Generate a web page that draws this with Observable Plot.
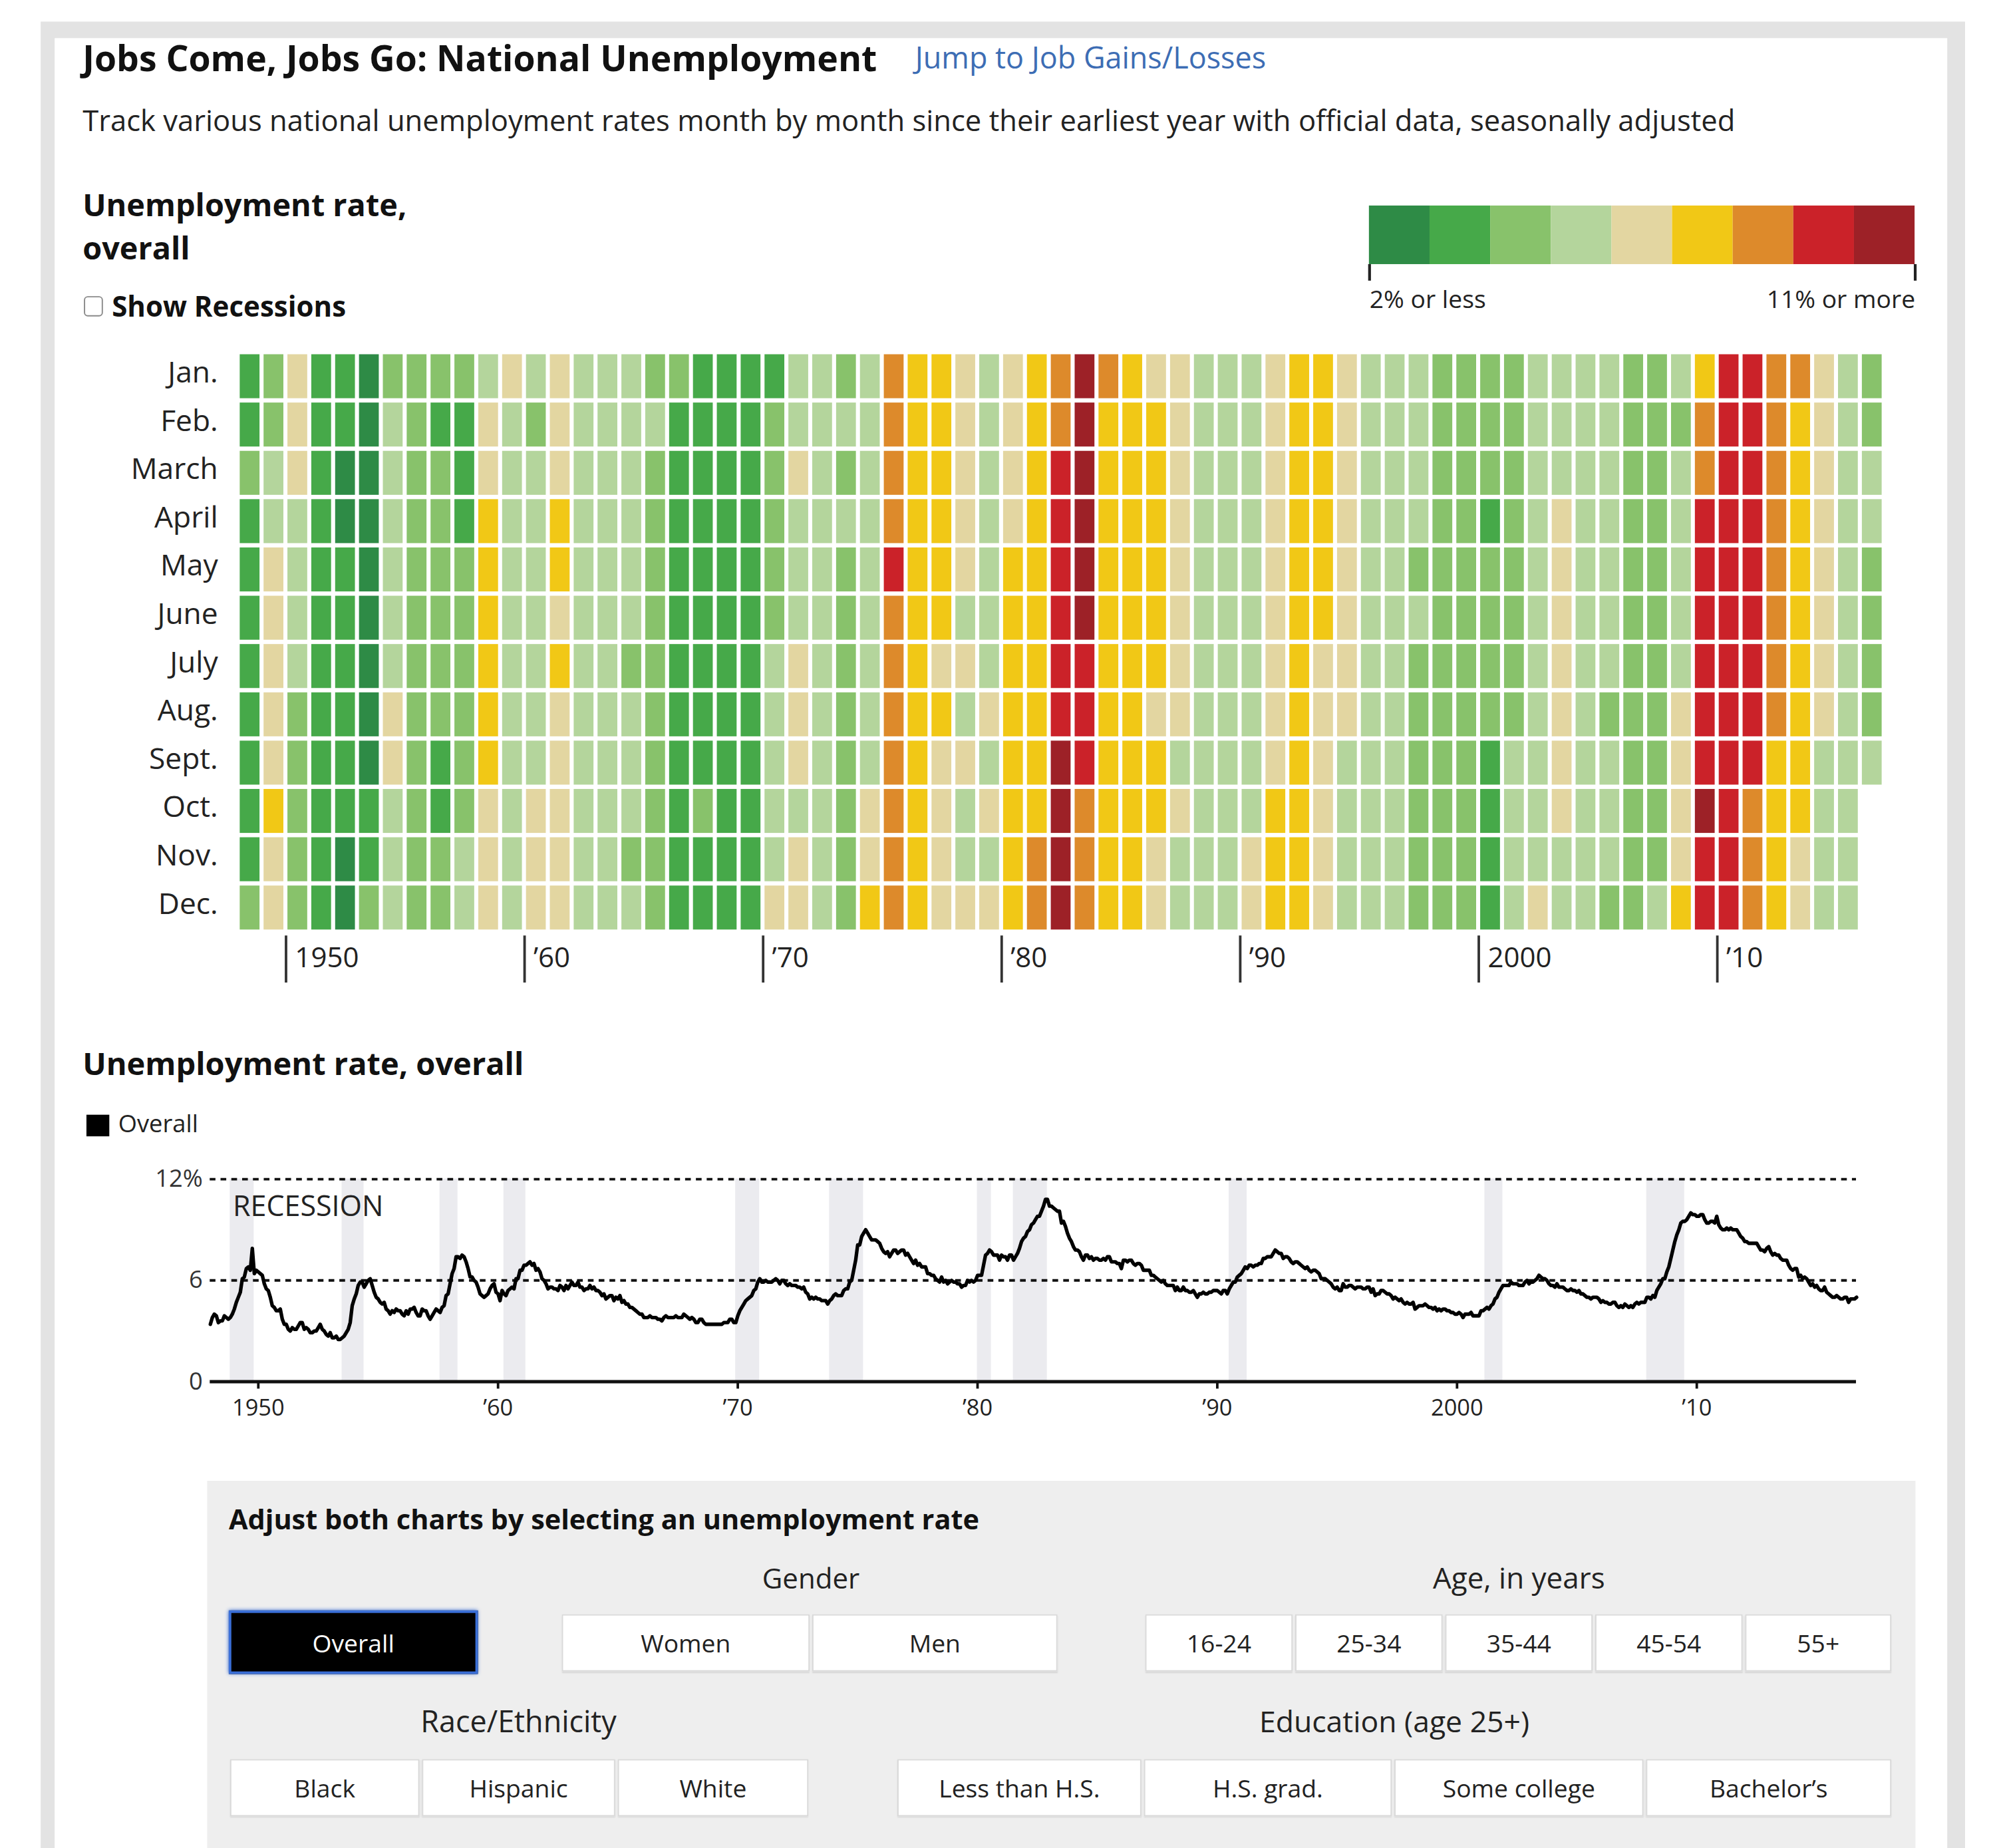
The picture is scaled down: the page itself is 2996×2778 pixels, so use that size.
<!DOCTYPE html>
<html>
<head>
<meta charset="utf-8">
<script src="https://cdn.jsdelivr.net/npm/d3@7"></script>
<script src="https://cdn.jsdelivr.net/npm/@observablehq/plot@0.6"></script>
<style>
html,body{margin:0;padding:0;background:#fff;overflow:hidden;}
#page{position:absolute;left:0;top:0;width:1568px;height:1454px;transform-origin:0 0;transform:scale(1.9107143);
  font-family:"Open Sans",sans-serif;color:#1a1a1a;overflow:hidden;background:#fff;}
.abs{position:absolute;white-space:nowrap;line-height:1;}
.btn{position:absolute;box-sizing:border-box;background:#fff;border:1px solid #d9d9d9;box-shadow:0 1px 1px rgba(0,0,0,0.10);
  display:flex;align-items:center;justify-content:center;font-size:19.5px;color:#222;white-space:nowrap;}
.btn.sel{background:#000;color:#fff;border:2px solid #3a6fd8;box-shadow:0 0 3px #3a6fd8;}
.plotwrap{position:absolute;}
.plotwrap svg{overflow:visible;}
</style>
</head>
<body>
<div id="page"></div>
<script>
// ---------------- DATA ----------------
const months = ["Jan.","Feb.","March","April","May","June","July","Aug.","Sept.","Oct.","Nov.","Dec."];
const firstYear = 1948;
// U.S. unemployment rate, seasonally adjusted, one row per year (Jan..Dec)
const monthlyRates = [
  [3.4,3.8,4.0,3.9,3.5,3.6,3.6,3.9,3.8,3.7,3.8,4.0], // 1948
  [4.3,4.7,5.0,5.3,6.1,6.2,6.7,6.8,6.6,7.9,6.4,6.6], // 1949
  [6.5,6.4,6.3,5.8,5.5,5.4,5.0,4.5,4.4,4.2,4.2,4.3], // 1950
  [3.7,3.4,3.4,3.1,3.0,3.2,3.1,3.1,3.3,3.5,3.5,3.1], // 1951
  [3.2,3.1,2.9,2.9,3.0,3.0,3.2,3.4,3.1,3.0,2.8,2.7], // 1952
  [2.9,2.6,2.6,2.7,2.5,2.5,2.6,2.7,2.9,3.1,3.5,4.5], // 1953
  [4.9,5.2,5.7,5.9,5.9,5.6,5.8,6.0,6.1,5.7,5.3,5.0], // 1954
  [4.9,4.7,4.6,4.7,4.3,4.2,4.0,4.2,4.1,4.3,4.2,4.2], // 1955
  [4.0,3.9,4.2,4.0,4.3,4.3,4.4,4.1,3.9,3.9,4.3,4.2], // 1956
  [4.2,3.9,3.7,3.9,4.1,4.3,4.2,4.1,4.4,4.5,5.1,5.2], // 1957
  [5.8,6.4,6.7,7.4,7.4,7.3,7.5,7.4,7.1,6.7,6.2,6.2], // 1958
  [6.0,5.9,5.6,5.2,5.1,5.0,5.1,5.2,5.5,5.7,5.8,5.3], // 1959
  [5.2,4.8,5.4,5.2,5.1,5.4,5.5,5.6,5.5,6.1,6.1,6.6], // 1960
  [6.6,6.9,6.9,7.0,7.1,6.9,7.0,6.6,6.7,6.5,6.1,6.0], // 1961
  [5.8,5.5,5.6,5.6,5.5,5.5,5.4,5.7,5.6,5.4,5.7,5.5], // 1962
  [5.7,5.9,5.7,5.7,5.9,5.6,5.6,5.4,5.5,5.5,5.7,5.5], // 1963
  [5.6,5.4,5.4,5.3,5.1,5.2,4.9,5.0,5.1,5.1,4.8,5.0], // 1964
  [4.9,5.1,4.7,4.8,4.6,4.6,4.4,4.4,4.3,4.2,4.1,4.0], // 1965
  [4.0,3.8,3.8,3.8,3.9,3.8,3.8,3.8,3.7,3.7,3.6,3.8], // 1966
  [3.9,3.8,3.8,3.8,3.8,3.9,3.8,3.8,3.8,4.0,3.9,3.8], // 1967
  [3.7,3.8,3.7,3.5,3.5,3.7,3.7,3.5,3.4,3.4,3.4,3.4], // 1968
  [3.4,3.4,3.4,3.4,3.4,3.5,3.5,3.5,3.7,3.7,3.5,3.5], // 1969
  [3.9,4.2,4.4,4.6,4.8,4.9,5.0,5.1,5.4,5.5,5.9,6.1], // 1970
  [5.9,5.9,6.0,5.9,5.9,5.9,6.0,6.1,6.0,5.8,6.0,6.0], // 1971
  [5.8,5.7,5.8,5.7,5.7,5.7,5.6,5.6,5.5,5.6,5.3,5.2], // 1972
  [4.9,5.0,4.9,5.0,4.9,4.9,4.8,4.8,4.8,4.6,4.8,4.9], // 1973
  [5.1,5.2,5.1,5.1,5.1,5.4,5.5,5.5,5.9,6.0,6.6,7.2], // 1974
  [8.1,8.1,8.6,8.8,9.0,8.8,8.6,8.4,8.4,8.4,8.3,8.2], // 1975
  [7.9,7.7,7.6,7.7,7.4,7.6,7.8,7.8,7.6,7.7,7.8,7.8], // 1976
  [7.5,7.6,7.4,7.2,7.0,7.2,6.9,7.0,6.8,6.8,6.8,6.4], // 1977
  [6.4,6.3,6.3,6.1,6.0,5.9,6.2,5.9,6.0,5.8,5.9,6.0], // 1978
  [5.9,5.9,5.8,5.8,5.6,5.7,5.7,6.0,5.9,6.0,5.9,6.0], // 1979
  [6.3,6.3,6.3,6.9,7.5,7.6,7.8,7.7,7.5,7.5,7.5,7.2], // 1980
  [7.5,7.4,7.4,7.2,7.5,7.5,7.2,7.4,7.6,7.9,8.3,8.5], // 1981
  [8.6,8.9,9.0,9.3,9.4,9.6,9.8,9.8,10.1,10.4,10.8,10.8], // 1982
  [10.4,10.4,10.3,10.2,10.1,10.1,9.4,9.5,9.2,8.8,8.5,8.3], // 1983
  [8.0,7.8,7.8,7.7,7.4,7.2,7.5,7.5,7.3,7.4,7.2,7.3], // 1984
  [7.3,7.2,7.2,7.3,7.2,7.4,7.4,7.1,7.1,7.1,7.0,7.0], // 1985
  [6.7,7.2,7.2,7.1,7.2,7.2,7.0,6.9,7.0,7.0,6.9,6.6], // 1986
  [6.6,6.6,6.6,6.3,6.3,6.2,6.1,6.0,5.9,6.0,5.8,5.7], // 1987
  [5.7,5.7,5.7,5.4,5.6,5.4,5.4,5.6,5.4,5.4,5.3,5.3], // 1988
  [5.4,5.2,5.0,5.2,5.2,5.3,5.2,5.2,5.3,5.3,5.4,5.4], // 1989
  [5.4,5.3,5.2,5.4,5.4,5.2,5.5,5.7,5.9,5.9,6.2,6.3], // 1990
  [6.4,6.6,6.8,6.7,6.9,6.9,6.8,6.9,6.9,7.0,7.0,7.3], // 1991
  [7.3,7.4,7.4,7.4,7.6,7.8,7.7,7.6,7.6,7.3,7.4,7.4], // 1992
  [7.3,7.1,7.0,7.1,7.1,7.0,6.9,6.8,6.7,6.8,6.6,6.5], // 1993
  [6.6,6.6,6.5,6.4,6.1,6.1,6.1,6.0,5.9,5.8,5.6,5.5], // 1994
  [5.6,5.4,5.4,5.8,5.6,5.6,5.7,5.7,5.6,5.5,5.6,5.6], // 1995
  [5.6,5.5,5.5,5.6,5.6,5.3,5.5,5.1,5.2,5.2,5.4,5.4], // 1996
  [5.3,5.2,5.2,5.1,4.9,5.0,4.9,4.8,4.9,4.7,4.6,4.7], // 1997
  [4.6,4.6,4.7,4.3,4.4,4.5,4.5,4.5,4.6,4.5,4.4,4.4], // 1998
  [4.3,4.4,4.2,4.3,4.2,4.3,4.3,4.2,4.2,4.1,4.1,4.0], // 1999
  [4.0,4.1,4.0,3.8,4.0,4.0,4.0,4.1,3.9,3.9,3.9,3.9], // 2000
  [4.2,4.2,4.3,4.4,4.3,4.5,4.6,4.9,5.0,5.3,5.5,5.7], // 2001
  [5.7,5.7,5.7,5.9,5.8,5.8,5.8,5.7,5.7,5.7,5.9,6.0], // 2002
  [5.8,5.9,5.9,6.0,6.1,6.3,6.2,6.1,6.1,6.0,5.8,5.7], // 2003
  [5.7,5.6,5.8,5.6,5.6,5.6,5.5,5.4,5.4,5.5,5.4,5.4], // 2004
  [5.3,5.4,5.2,5.2,5.1,5.0,5.0,4.9,5.0,5.0,5.0,4.9], // 2005
  [4.7,4.8,4.7,4.7,4.6,4.6,4.7,4.7,4.5,4.4,4.5,4.4], // 2006
  [4.6,4.5,4.4,4.5,4.4,4.6,4.7,4.6,4.7,4.7,4.7,5.0], // 2007
  [5.0,4.9,5.1,5.0,5.4,5.6,5.8,6.1,6.1,6.5,6.8,7.3], // 2008
  [7.8,8.3,8.7,9.0,9.4,9.5,9.5,9.6,9.8,10.0,9.9,9.9], // 2009
  [9.8,9.8,9.9,9.9,9.6,9.4,9.4,9.5,9.5,9.4,9.8,9.3], // 2010
  [9.1,9.0,9.0,9.1,9.0,9.1,9.0,9.0,9.0,8.8,8.6,8.5], // 2011
  [8.3,8.3,8.2,8.2,8.2,8.2,8.2,8.0,7.8,7.8,7.7,7.9], // 2012
  [8.0,7.7,7.5,7.6,7.5,7.5,7.3,7.2,7.2,7.2,6.9,6.7], // 2013
  [6.6,6.7,6.7,6.2,6.3,6.1,6.2,6.1,5.9,5.7,5.8,5.6], // 2014
  [5.7,5.5,5.4,5.4,5.6,5.3,5.2,5.1,5.0,5.0,5.1,5.0], // 2015
  [4.9,4.9,5.0,5.0,4.7,4.9,4.9,4.9,5.0]              // 2016 (through Sept.)
];
const thresholds = [3,4,5,6,7,8,9,10];
const binColors = ["#2e8b46","#46a949","#88c26b","#b4d59c","#e3d6a1","#f1c816","#dd8a2b","#cb2229","#9d2127"];
const legendBins = [2,3,4,5,6,7,8,9,10];
const legendLabels = [{value:2,label:"2% or less"},{value:11,label:"11% or more"}];
const decadeTicks = [1950,1960,1970,1980,1990,2000,2010];
const decadeLabels = ["1950","’60","’70","’80","’90","2000","’10"];
const yTicks = [0,6,12];
const yTickLabels = ["0","6","12%"];
const recessions = [
  ["1948-11","1949-10"],["1953-07","1954-05"],["1957-08","1958-04"],["1960-04","1961-02"],
  ["1969-12","1970-11"],["1973-11","1975-03"],["1980-01","1980-07"],["1981-07","1982-11"],
  ["1990-07","1991-03"],["2001-03","2001-11"],["2007-12","2009-06"]
];
const genderButtons = ["Women","Men"];
const ageButtons = ["16-24","25-34","35-44","45-54","55+"];
const raceButtons = ["Black","Hispanic","White"];
const eduButtons = ["Less than H.S.","H.S. grad.","Some college","Bachelor’s"];

// ---------------- DERIVED TABLES ----------------
const cells = monthlyRates.flatMap((row, i) => row.map((v, m) => ({year: firstYear + i, month: months[m], value: v})));
const series = monthlyRates.flatMap((row, i) => row.map((v, m) => ({t: firstYear + i + m / 12, value: v})));
const ym = s => +s.slice(0, 4) + (+s.slice(5) - 1) / 12;
const recessionSpans = recessions.map(([a, b]) => ({start: ym(a), end: ym(b) + 1 / 12}));
const decadeFmt = d => decadeLabels[decadeTicks.indexOf(d)];
const noLabel = () => "";
const colorScale = {type: "threshold", domain: thresholds, range: binColors};
const FONT = "'Open Sans', sans-serif";

// ---------------- PAGE ----------------
const page = document.getElementById("page");
function box(x, y, w, h, bg) {
  const d = document.createElement("div");
  d.style.cssText = `position:absolute;left:${x}px;top:${y}px;width:${w}px;height:${h}px;background:${bg};`;
  page.appendChild(d); return d;
}
function txt(s, x, baseline, size, opts = {}) {
  const d = document.createElement("div");
  d.className = "abs";
  d.textContent = s;
  const top = baseline - 0.888 * size;
  let tr = "";
  if (opts.anchor === "middle") tr = "transform:translateX(-50%);";
  if (opts.anchor === "end") tr = "transform:translateX(-100%);";
  d.style.cssText += `left:${x}px;top:${top}px;font-size:${size}px;font-weight:${opts.weight || 400};color:${opts.color || "#1a1a1a"};${tr}${opts.css || ""}`;
  page.appendChild(d); return d;
}
function btn(s, x1, x2, y1, y2, sel) {
  const d = document.createElement("div");
  d.className = "btn" + (sel ? " sel" : "");
  d.textContent = s;
  d.style.left = x1 + "px"; d.style.top = y1 + "px";
  d.style.width = (x2 - x1) + "px"; d.style.height = (y2 - y1) + "px";
  page.appendChild(d); return d;
}
function mount(svg, x, y) {
  const w = document.createElement("div");
  w.className = "plotwrap";
  w.style.left = x + "px"; w.style.top = y + "px";
  w.appendChild(svg); page.appendChild(w);
}

// frame
box(31.7, 17, 1514.3, 1500, "#e3e3e3");
box(43.4, 29.5, 1488.6, 1500, "#ffffff");

// headings
txt("Jobs Come, Jobs Go: National Unemployment", 65, 56, 28, {weight: 700, color: "#111"});
txt("Jump to Job Gains/Losses", 720, 55, 23.5, {color: "#3d6db4"});
txt("Track various national unemployment rates month by month since their earliest year with official data, seasonally adjusted", 65, 104.5, 22.8, {color: "#222"});
txt("Unemployment rate,", 65, 170.5, 24.5, {weight: 700, color: "#111"});
txt("overall", 65, 204.5, 24.5, {weight: 700, color: "#111"});
const cb = box(66, 233, 15, 16, "#fff");
cb.style.border = "1.3px solid #8a8a8a"; cb.style.borderRadius = "3px"; cb.style.boxSizing = "border-box";
txt("Show Recessions", 88, 248.5, 22, {weight: 700, color: "#111"});

// ---------------- COLOR LEGEND ----------------
const legend = Plot.plot({
  width: 450, height: 95, marginLeft: 10, marginRight: 10.7, marginTop: 6.7, marginBottom: 42.2,
  x: {domain: [2, 11], axis: null},
  color: colorScale,
  style: `font-family:${FONT};color:#222;background:transparent;overflow:visible;`,
  marks: [
    Plot.barX(legendBins, {x1: d => d, x2: d => d + 1, fill: d => d + 0.5}),
    Plot.axisX({ticks: [2, 11], tickSize: 13, tickFormat: noLabel, label: null, stroke: "#222", strokeWidth: 2.2}),
    Plot.text(legendLabels.slice(0, 1), {x: "value", text: "label", frameAnchor: "bottom", lineAnchor: "middle", dy: 27.7, textAnchor: "start", fontSize: 19.5, fill: "#222"}),
    Plot.text(legendLabels.slice(1), {x: "value", text: "label", frameAnchor: "bottom", lineAnchor: "middle", dy: 27.7, textAnchor: "end", fontSize: 19.5, fill: "#222"})
  ]
});
mount(legend, 1067, 155);

// ---------------- HEATMAP ----------------
const heat = Plot.plot({
  width: 1520, height: 522, marginLeft: 187, marginRight: 38, marginTop: 10, marginBottom: 50,
  x: {domain: [1948, 2017], axis: null},
  y: {domain: months, padding: 0, axis: null},
  color: colorScale,
  style: `font-family:${FONT};color:#222;background:transparent;overflow:visible;`,
  marks: [
    Plot.barX(cells, {x1: "year", x2: d => d.year + 1, y: "month", fill: "value",
      insetLeft: 1.6, insetRight: 1.6, insetTop: 1.7, insetBottom: 1.7}),
    Plot.axisY({tickSize: 0, tickPadding: 16, fontSize: 23.2, fill: "#222", label: null, dy: -3}),
    Plot.axisX({ticks: decadeTicks, tickSize: 37, tickFormat: noLabel, label: null, stroke: "#333", strokeWidth: 2}),
    Plot.text(decadeTicks, {x: d => d, text: decadeFmt, frameAnchor: "bottom", lineAnchor: "middle", dy: 17.6, dx: 7,
      textAnchor: "start", fontSize: 22, fill: "#222"})
  ]
});
mount(heat, 0, 264);

// ---------------- LINE CHART ----------------
txt("Unemployment rate, overall", 65, 847, 24.6, {weight: 700, color: "#111"});
box(68, 877, 18, 17, "#000");
txt("Overall", 93, 892, 19, {color: "#222"});

const line = Plot.plot({
  width: 1520, height: 232, marginLeft: 165, marginRight: 59.8, marginTop: 27.2, marginBottom: 45.5,
  x: {domain: [1948, 2016 + 8 / 12], axis: null},
  y: {domain: [0, 12], axis: null},
  style: `font-family:${FONT};color:#222;background:transparent;overflow:visible;`,
  marks: [
    Plot.rect(recessionSpans, {x1: "start", x2: "end", y1: () => 0, y2: () => 12, fill: "#ebebef"}),
    Plot.ruleY([6, 12], {stroke: "#111", strokeWidth: 2, strokeDasharray: "4.5,4"}),
    Plot.ruleY([0], {stroke: "#111", strokeWidth: 2.6}),
    Plot.line(series, {x: "t", y: "value", stroke: "#000", strokeWidth: 2.8}),
    Plot.text(recessionSpans.slice(0, 1), {x: "start", y: () => 12, text: () => "RECESSION", textAnchor: "start",
      dx: 2, dy: 22, fontSize: 22.5, fill: "#222"}),
    Plot.axisY({ticks: yTicks, tickSize: 0, tickPadding: 6, tickFormat: d => yTickLabels[yTicks.indexOf(d)], fontSize: 19, fill: "#333", label: null}),
    Plot.axisX({ticks: decadeTicks, tickSize: 6, tickPadding: 8, tickFormat: decadeFmt, fontSize: 18, stroke: "#111", strokeWidth: 2, fill: "#222", label: null})
  ]
});
mount(line, 0, 900);

// ---------------- CONTROL PANEL ----------------
box(163, 1165, 1344, 320, "#eeeeee");
txt("Adjust both charts by selecting an unemployment rate", 180, 1203.5, 21.7, {weight: 700, color: "#111"});
txt("Gender", 638, 1250, 22, {anchor: "middle", color: "#222"});
txt("Age, in years", 1195, 1250, 23, {anchor: "middle", color: "#222"});
txt("Race/Ethnicity", 408, 1364, 23.5, {anchor: "middle", color: "#222"});
txt("Education (age 25+)", 1097, 1364, 23.3, {anchor: "middle", color: "#222"});

btn("Overall", 180, 376, 1267, 1317, true);
const gX = [[442, 637], [639, 832]];
genderButtons.forEach((s, i) => btn(s, gX[i][0], gX[i][1], 1270, 1315));
const aX = [[901, 1017], [1019, 1135], [1137, 1253], [1255, 1371], [1373, 1488]];
ageButtons.forEach((s, i) => btn(s, aX[i][0], aX[i][1], 1270, 1315));
const rX = [[181, 330], [332, 484], [486, 636]];
raceButtons.forEach((s, i) => btn(s, rX[i][0], rX[i][1], 1384, 1429));
const eX = [[706, 898], [900, 1095], [1097, 1293], [1295, 1488]];
eduButtons.forEach((s, i) => btn(s, eX[i][0], eX[i][1], 1384, 1429));
</script>
</body>
</html>
